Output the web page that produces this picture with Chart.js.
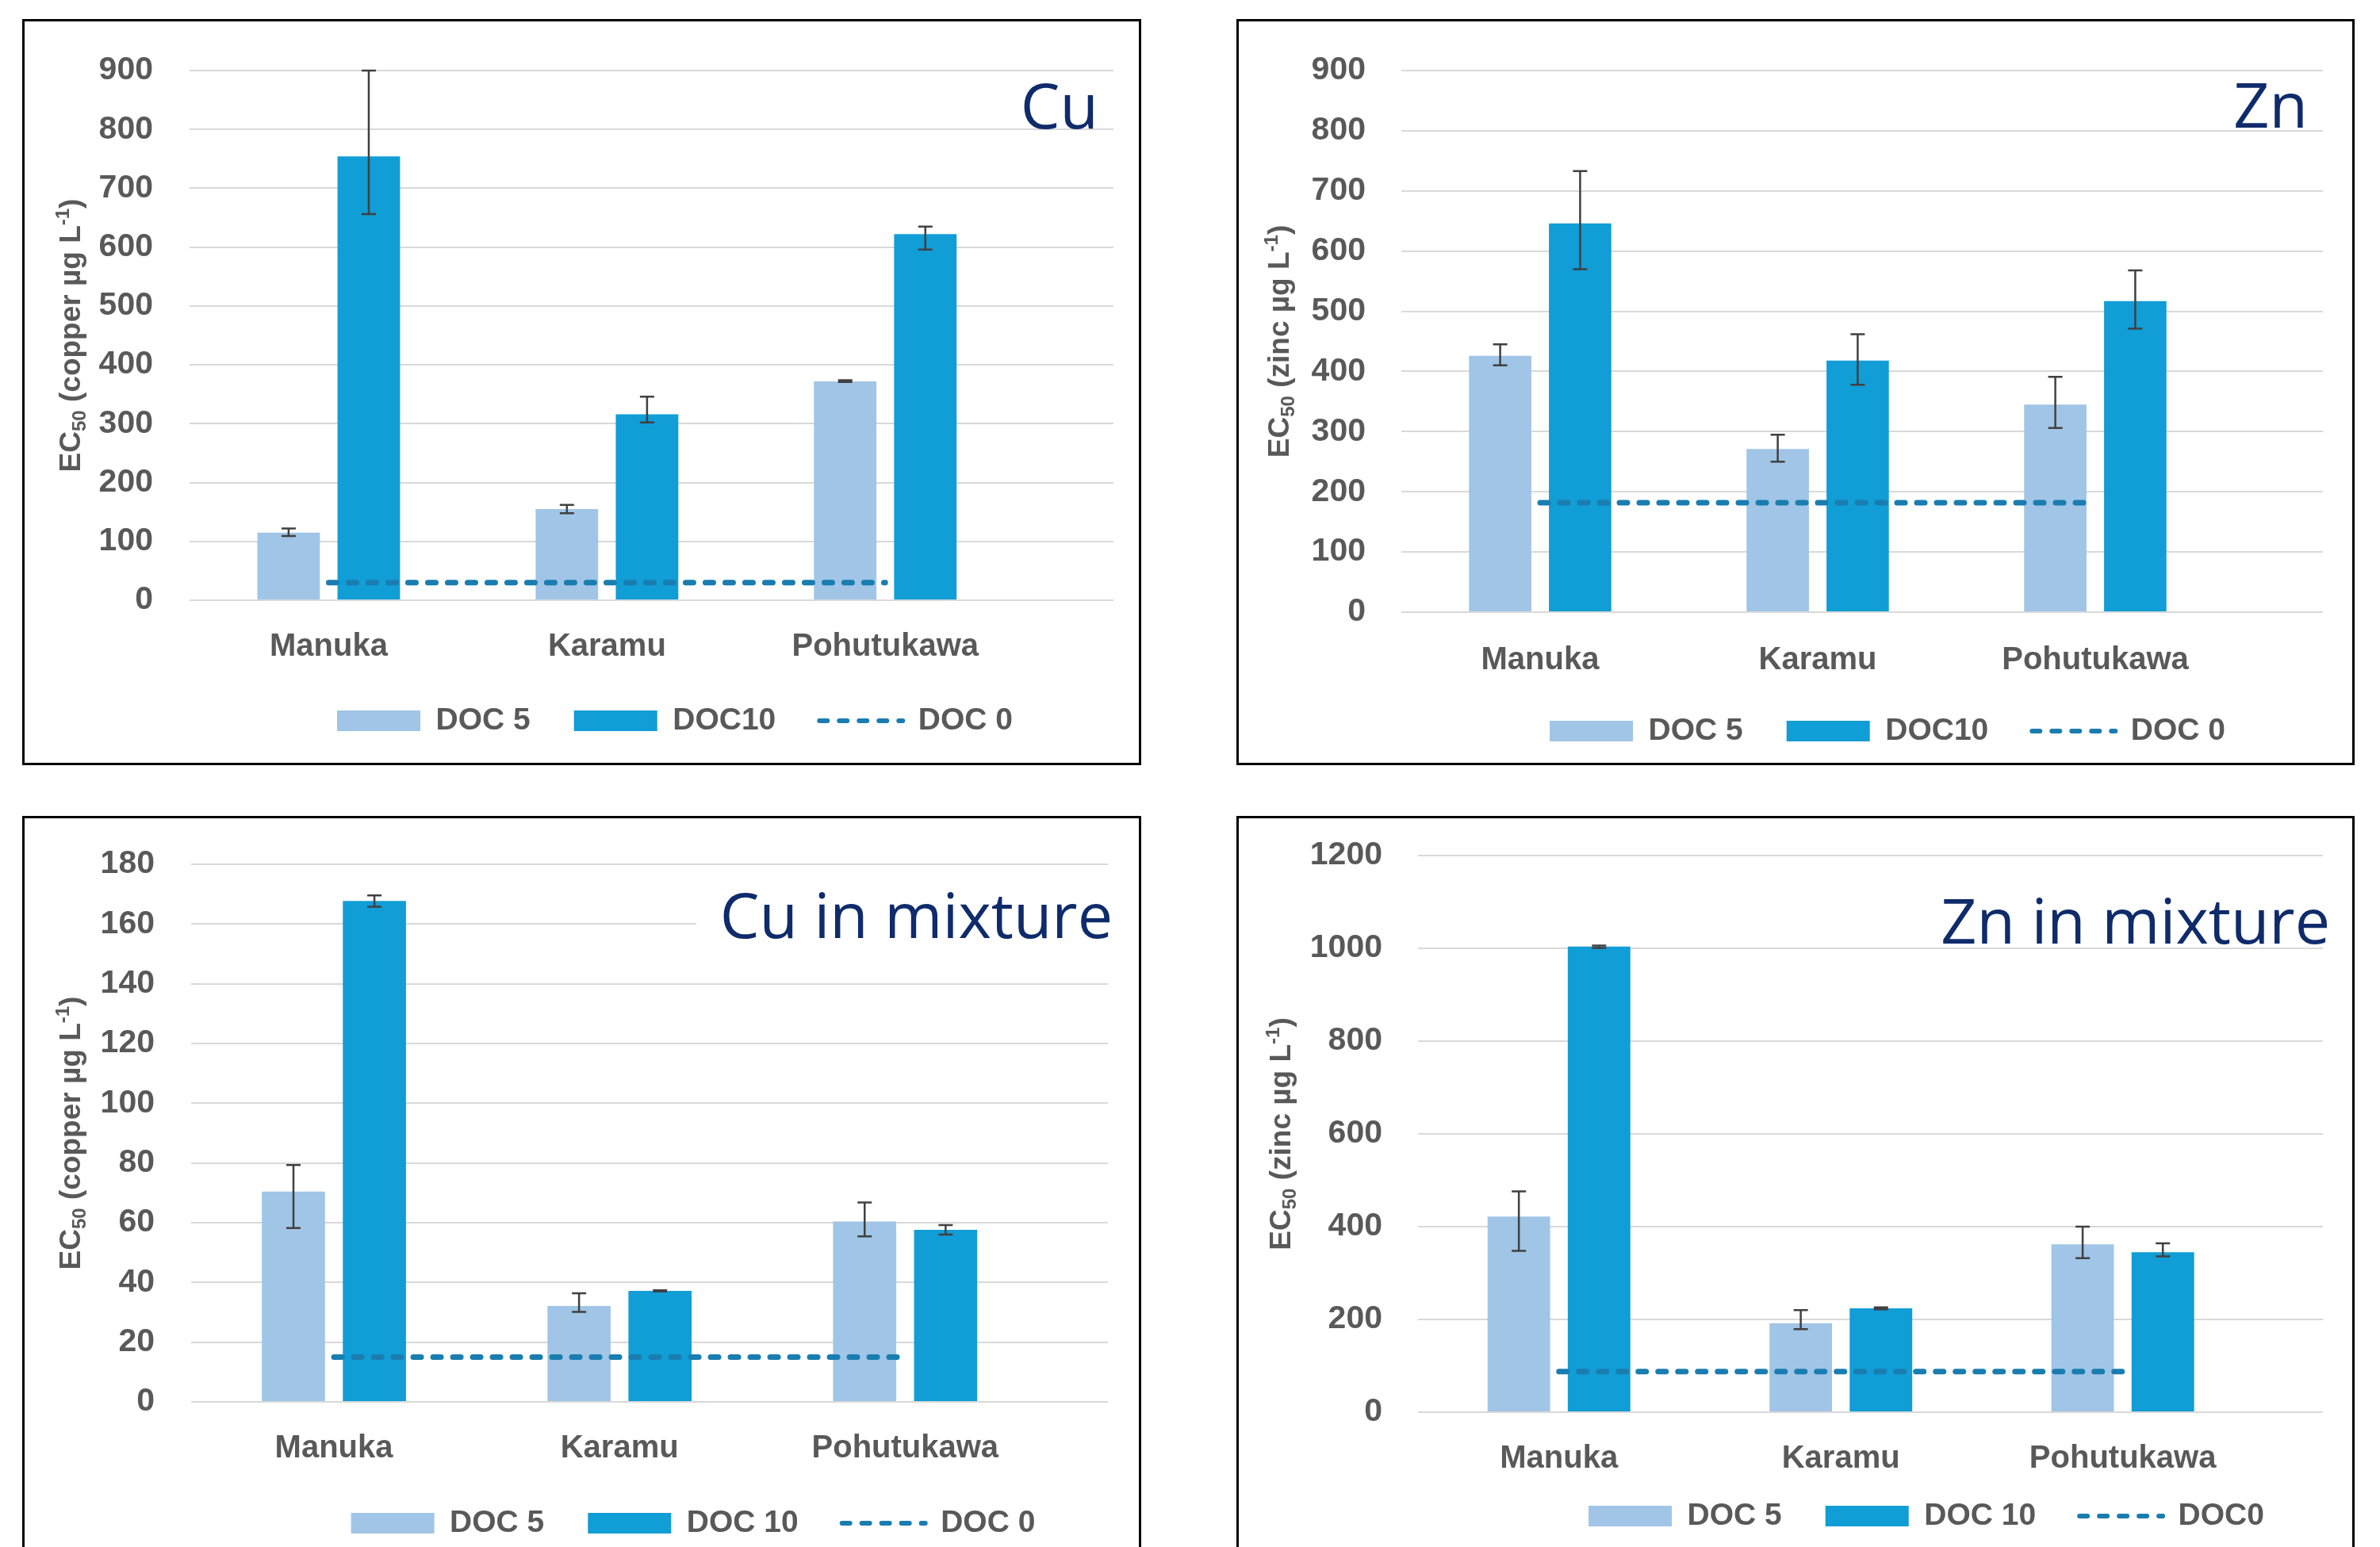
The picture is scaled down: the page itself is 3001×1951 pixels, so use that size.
<!DOCTYPE html>
<html>
<head>
<meta charset="utf-8">
<script src="https://cdn.jsdelivr.net/npm/chart.js@4.4.1/dist/chart.umd.min.js"></script>
<style>
  html, body { margin: 0; padding: 0; background: #fff; }
  body { width: 3001px; height: 1951px; overflow: hidden; position: relative; }
  .panel { position: absolute; border: 3px solid #000; box-sizing: border-box; background: #fff; }
  .panel canvas { display: block; }
</style>
</head>
<body>
<div class="panel" style="left:28px;top:24px;width:1411px;height:941px"><canvas id="cuChart" width="1405" height="935"></canvas></div>
<div class="panel" style="left:1559px;top:24px;width:1410px;height:941px"><canvas id="znChart" width="1404" height="935"></canvas></div>
<div class="panel" style="left:28px;top:1029px;width:1411px;height:960px"><canvas id="cuMixChart" width="1405" height="954"></canvas></div>
<div class="panel" style="left:1559px;top:1029px;width:1410px;height:960px"><canvas id="znMixChart" width="1404" height="954"></canvas></div>

<script>
// ---- data ----
const categories = ['Manuka', 'Karamu', 'Pohutukawa'];

// Cu
const cuDoc5 = [115, 155, 372];
const cuDoc5Lo = [109, 148, 371];
const cuDoc5Hi = [122, 162, 374];
const cuDoc10 = [754, 316, 622];
const cuDoc10Lo = [656, 302, 596];
const cuDoc10Hi = [900, 346, 635];
const cuDoc0 = [30, 30, 30];
const cuTicks = [0, 100, 200, 300, 400, 500, 600, 700, 800, 900];

// Zn
const znDoc5 = [426, 271, 345];
const znDoc5Lo = [410, 250, 306];
const znDoc5Hi = [445, 295, 391];
const znDoc10 = [646, 418, 517];
const znDoc10Lo = [570, 378, 471];
const znDoc10Hi = [733, 462, 568];
const znDoc0 = [182, 182, 182];
const znTicks = [0, 100, 200, 300, 400, 500, 600, 700, 800, 900];

// Cu in mixture
const cuMixDoc5 = [70.4, 32.1, 60.4];
const cuMixDoc5Lo = [58.2, 30.1, 55.4];
const cuMixDoc5Hi = [79.3, 36.4, 66.8];
const cuMixDoc10 = [167.7, 37.2, 57.6];
const cuMixDoc10Lo = [165.8, 37.0, 56.0];
const cuMixDoc10Hi = [169.6, 37.4, 59.2];
const cuMixDoc0 = [15, 15, 15];
const cuMixTicks = [0, 20, 40, 60, 80, 100, 120, 140, 160, 180];

// Zn in mixture
const znMixDoc5 = [422, 192, 362];
const znMixDoc5Lo = [348, 179, 332];
const znMixDoc5Hi = [476, 220, 400];
const znMixDoc10 = [1004, 224, 345];
const znMixDoc10Lo = [1001, 222, 336];
const znMixDoc10Hi = [1006, 226, 364];
const znMixDoc0 = [87.5, 87.5, 87.5];
const znMixTicks = [0, 200, 400, 600, 800, 1000, 1200];

// axis titles: [text, 0 normal / 1 subscript / -1 superscript]
const copperTitle = [['EC', 0], ['50', 1], [' (copper \u00b5g L', 0], ['-1', -1], [')', 0]];
const zincTitle = [['EC', 0], ['50', 1], [' (zinc \u00b5g L', 0], ['-1', -1], [')', 0]];

const FONT = '"Liberation Sans", Arial, Helvetica, sans-serif';
const GREY = '#595959';
Chart.defaults.font.family = FONT;

// error bars on top of each bar dataset
const errorBars = {
  id: 'errorBars',
  afterDatasetDraw(chart, args) {
    const ds = chart.data.datasets[args.index];
    if (!ds.errLo) return;
    const yScale = chart.scales.y;
    const ctx = chart.ctx;
    ctx.save();
    ctx.strokeStyle = '#404040';
    ctx.lineWidth = 2.5;
    args.meta.data.forEach((bar, i) => {
      const top = yScale.getPixelForValue(ds.errHi[i]);
      const bot = yScale.getPixelForValue(ds.errLo[i]);
      ctx.beginPath();
      ctx.moveTo(bar.x, top); ctx.lineTo(bar.x, bot);
      ctx.moveTo(bar.x - 9, top); ctx.lineTo(bar.x + 9, top);
      ctx.moveTo(bar.x - 9, bot); ctx.lineTo(bar.x + 9, bot);
      ctx.stroke();
    });
    ctx.restore();
  }
};

// big navy panel label, with optional white patch behind it
const panelTitle = {
  id: 'panelTitle',
  beforeDatasetsDraw(chart, args, opts) {
    if (!opts.clear) return;
    const ctx = chart.ctx;
    ctx.save();
    ctx.fillStyle = '#fff';
    ctx.fillRect(opts.clear[0], opts.clear[1], opts.clear[2], opts.clear[3]);
    ctx.restore();
  },
  afterDraw(chart, args, opts) {
    const ctx = chart.ctx;
    ctx.save();
    ctx.font = '79px "Open Sans", Roboto, sans-serif';
    ctx.fillStyle = '#0f2b6b';
    ctx.textAlign = 'right';
    ctx.textBaseline = 'alphabetic';
    ctx.fillText(opts.text, opts.x, opts.y);
    ctx.restore();
  }
};

// rotated y title with real sub/superscripts
const yTitle = {
  id: 'yTitle',
  afterDraw(chart, args, opts) {
    const ctx = chart.ctx;
    const area = chart.chartArea;
    const size = opts.size;
    const big = `bold ${size}px ${FONT}`;
    const small = `bold ${Math.round(size * 0.65)}px ${FONT}`;
    ctx.save();
    ctx.fillStyle = GREY;
    ctx.textBaseline = 'alphabetic';
    ctx.translate(opts.x, (area.top + area.bottom) / 2);
    ctx.rotate(-Math.PI / 2);
    let total = 0;
    opts.parts.forEach(([t, k]) => { ctx.font = k ? small : big; total += ctx.measureText(t).width; });
    let x = -total / 2;
    const base = size * 0.36;
    opts.parts.forEach(([t, k]) => {
      ctx.font = k ? small : big;
      const dy = k === 1 ? base + size * 0.18 : (k === -1 ? base - size * 0.4 : base);
      ctx.fillText(t, x, dy);
      x += ctx.measureText(t).width;
    });
    ctx.restore();
  }
};

// put the legend where the figure has it
const legendPlace = {
  id: 'legendPlace',
  afterLayout(chart, args, opts) {
    const lg = chart.legend;
    const lab = lg.options.labels;
    const dx = opts.x - (lg.left + lg.right) / 2;
    const dy = (opts.y - lab.padding - lab.font.size / 2) - lg.top;
    lg.left += dx; lg.right += dx;
    lg.top += dy; lg.bottom += dy;
  }
};

function toPoints(values) {
  return values.map((v, i) => ({x: i, y: v}));
}

function legendLabels(chart) {
  const items = Chart.defaults.plugins.legend.labels.generateLabels(chart);
  items.sort((a, b) => a.datasetIndex - b.datasetIndex);
  return items.map(it => {
    const ds = chart.data.datasets[it.datasetIndex];
    if (ds.type === 'line') {
      return Object.assign(it, {pointStyle: 'line', lineDash: ds.borderDash, lineCap: 'round',
        lineWidth: 6, strokeStyle: ds.borderColor});
    }
    return Object.assign(it, {pointStyle: 'rect', lineWidth: 0, strokeStyle: 'rgba(0,0,0,0)'});
  });
}

function makeChart(id, p, L) {
  const legendPad = 55;
  const legendFont = 39;
  const legendHeight = legendFont + legendPad + 10;
  const xAxisHeight = L.h - legendHeight - L.bottom;

  return new Chart(document.getElementById(id), {
    type: 'bar',
    data: {
      datasets: [
        {label: p.names[0], data: toPoints(p.doc5), errLo: p.doc5Lo, errHi: p.doc5Hi,
         backgroundColor: '#a0c5e6', order: 1, categoryPercentage: p.catPct, barPercentage: 0.78},
        {label: p.names[1], data: toPoints(p.doc10), errLo: p.doc10Lo, errHi: p.doc10Hi,
         backgroundColor: '#119dd6', order: 1, categoryPercentage: p.catPct, barPercentage: 0.78},
        {type: 'line', label: p.names[2], data: toPoints(p.doc0), borderColor: '#1a7db0',
         borderWidth: 7, borderDash: [10, 15], borderCapStyle: 'round', pointRadius: 0,
         pointStyle: 'line', fill: false, order: 0}
      ]
    },
    options: {
      responsive: false,
      animation: false,
      events: [],
      layout: {padding: {top: L.top, right: L.w - L.right, bottom: 0, left: 0}},
      scales: {
        x: {
          type: 'linear', offset: false, bounds: 'data', min: -0.5, max: p.xMax,
          afterBuildTicks: s => { s.ticks = categories.map((c, i) => ({value: i})); },
          afterFit: s => { s.height = xAxisHeight; },
          grid: {display: false, drawTicks: false, offset: false},
          border: {display: false},
          ticks: {font: {family: FONT, size: 40, weight: 'bold'}, color: GREY,
                  padding: L.labelY - L.bottom - 24, autoSkip: false, maxRotation: 0, minRotation: 0,
                  callback: v => categories[v]}
        },
        y: {
          min: 0, max: p.ticks[p.ticks.length - 1],
          afterBuildTicks: s => { s.ticks = p.ticks.map(v => ({value: v})); },
          // fixed axis width; drop the label padding so the plot top is set by layout.padding
          afterFit: s => { s.width = L.left; s.paddingTop = 0; s.paddingBottom = 0; },
          grid: {color: '#d9d9d9', lineWidth: 2, drawTicks: false},
          border: {display: false},
          ticks: {font: {family: FONT, size: 41, weight: 'bold'}, color: GREY,
                  padding: L.left - L.tickRight, callback: v => String(v)},
          title: {display: false}
        }
      },
      plugins: {
        tooltip: {enabled: false},
        legend: {
          position: 'bottom', fullSize: false,
          labels: {usePointStyle: true, pointStyleWidth: 105, boxWidth: 105, boxHeight: 26,
                   padding: legendPad, color: GREY, font: {family: FONT, size: legendFont, weight: 'bold'},
                   generateLabels: legendLabels}
        },
        legendPlace: {x: L.legendCenter, y: L.legendY},
        yTitle: {parts: p.yTitle, x: L.titleX, size: 37},
        panelTitle: p.title
      }
    },
    plugins: [errorBars, panelTitle, yTitle, legendPlace]
  });
}

makeChart('cuChart', {
  names: ['DOC 5', 'DOC10', 'DOC 0'],
  doc5: cuDoc5, doc5Lo: cuDoc5Lo, doc5Hi: cuDoc5Hi,
  doc10: cuDoc10, doc10Lo: cuDoc10Lo, doc10Hi: cuDoc10Hi,
  doc0: cuDoc0, ticks: cuTicks, xMax: 2.82, catPct: 0.576,
  yTitle: copperTitle,
  title: {text: 'Cu', x: 1354, y: 135}
}, {w: 1405, h: 935, left: 208, right: 1373, top: 62, bottom: 730, tickRight: 162,
    titleX: 57, labelY: 789, legendY: 882, legendCenter: 820});

makeChart('znChart', {
  names: ['DOC 5', 'DOC10', 'DOC 0'],
  doc5: znDoc5, doc5Lo: znDoc5Lo, doc5Hi: znDoc5Hi,
  doc10: znDoc10, doc10Lo: znDoc10Lo, doc10Hi: znDoc10Hi,
  doc0: znDoc0, ticks: znTicks, xMax: 2.82, catPct: 0.576,
  yTitle: zincTitle,
  title: {text: 'Zn', x: 1348, y: 134}
}, {w: 1404, h: 935, left: 205, right: 1367, top: 62, bottom: 745, tickRight: 160,
    titleX: 50, labelY: 806, legendY: 895, legendCenter: 818});

makeChart('cuMixChart', {
  names: ['DOC 5', 'DOC 10', 'DOC 0'],
  doc5: cuMixDoc5, doc5Lo: cuMixDoc5Lo, doc5Hi: cuMixDoc5Hi,
  doc10: cuMixDoc10, doc10Lo: cuMixDoc10Lo, doc10Hi: cuMixDoc10Hi,
  doc0: cuMixDoc0, ticks: cuMixTicks, xMax: 2.71, catPct: 0.567,
  yTitle: copperTitle,
  title: {text: 'Cu in mixture', x: 1372, y: 151, clear: [847, 82, 560, 88]}
}, {w: 1405, h: 954, left: 210, right: 1366, top: 58, bottom: 736, tickRight: 164,
    titleX: 57, labelY: 795, legendY: 889, legendCenter: 843});

makeChart('znMixChart', {
  names: ['DOC 5', 'DOC 10', 'DOC0'],
  doc5: znMixDoc5, doc5Lo: znMixDoc5Lo, doc5Hi: znMixDoc5Hi,
  doc10: znMixDoc10, doc10Lo: znMixDoc10Lo, doc10Hi: znMixDoc10Hi,
  doc0: znMixDoc0, ticks: znMixTicks, xMax: 2.71, catPct: 0.569,
  yTitle: zincTitle,
  title: {text: 'Zn in mixture', x: 1376, y: 158}
}, {w: 1404, h: 954, left: 226, right: 1367, top: 47, bottom: 749, tickRight: 181,
    titleX: 52, labelY: 808, legendY: 880, legendCenter: 867});
</script>
</body>
</html>
